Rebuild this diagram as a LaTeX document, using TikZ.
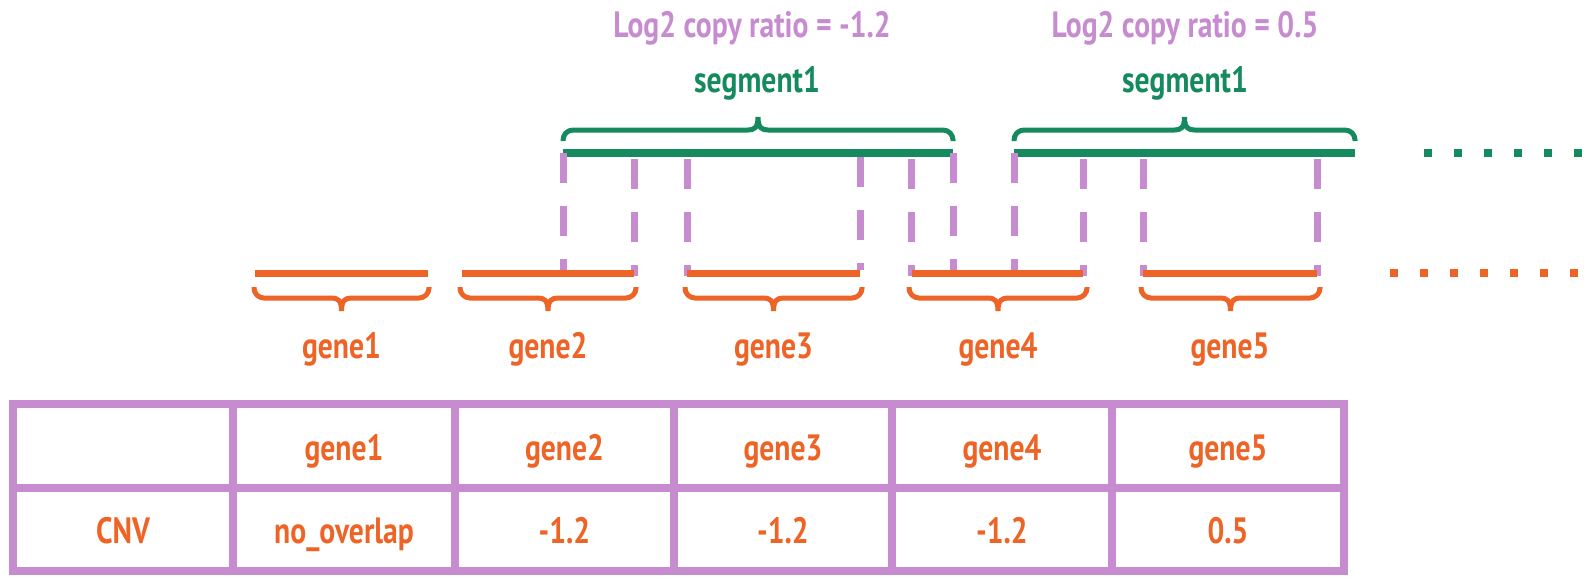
\documentclass[tikz,border=0pt]{standalone}
\usepackage{fontspec}
\newfontfamily\labfont{PT Sans}[FakeStretch=0.81]
\definecolor{orangeC}{HTML}{ED6426}
\definecolor{greenC}{HTML}{148A5E}
\definecolor{purpleC}{HTML}{C78BD0}
\newcommand\mybrace[5]{% #1 style, #2 left x, #3 right x, #4 end y, #5 direction (1 down, -1 up)
  \draw[#1] ({#2},{#4-1*#5}) -- ({#2},{#4}) .. controls ({#2},{#4+5.5*#5}) and ({#2+4.5},{#4+10*#5}) .. ({#2+10},{#4+10*#5})
   -- ({(#2+#3)/2-10},{#4+10*#5}) .. controls ({(#2+#3)/2-4},{#4+10*#5}) and ({(#2+#3)/2},{#4+12*#5}) .. ({(#2+#3)/2},{#4+23*#5})
   .. controls ({(#2+#3)/2},{#4+12*#5}) and ({(#2+#3)/2+4},{#4+10*#5}) .. ({(#2+#3)/2+10},{#4+10*#5})
   -- ({#3-10},{#4+10*#5}) .. controls ({#3-4.5},{#4+10*#5}) and ({#3},{#4+5.5*#5}) .. ({#3},{#4}) -- ({#3},{#4-1*#5});}
\begin{document}
\begin{tikzpicture}[x=0.5pt,y=-0.5pt,
  lab/.style={font=\labfont\bfseries\fontsize{18.3}{21}\selectfont, inner sep=0pt, anchor=base},
  genetext/.style={lab, text=orangeC},
  segtext/.style={lab, text=greenC},
  ratiotext/.style={lab, text=purpleC},
  geneline/.style={draw=orangeC, line width=3.5pt},
  segline/.style={draw=greenC, line width=3.8pt},
  linkline/.style={draw=purpleC, line width=3.5pt, dash pattern=on 15pt off 11.5pt},
  genedots/.style={draw=orangeC, line width=3.7pt, dash pattern=on 3.8pt off 11.2pt},
  segdots/.style={draw=greenC, line width=3.7pt, dash pattern=on 3.8pt off 11.2pt},
  genebrace/.style={draw=orangeC, line width=2.5pt},
  segbrace/.style={draw=greenC, line width=2.5pt},
  grid/.style={draw=purpleC, line width=3.8pt},
  celltext/.style={lab, text=orangeC}]
\useasboundingbox (0,0) rectangle (1590,584);

% segments
\coordinate (s1a) at (563,153); \coordinate (s1b) at (953,153);
\coordinate (s2a) at (1014,153); \coordinate (s2b) at (1355,153);
\coordinate (sda) at (1424,153); \coordinate (sdb) at (1590,153);
\draw[segline] (s1a) -- (s1b);
\draw[segline] (s2a) -- (s2b);
\draw[segdots] (sda) -- (sdb);
\mybrace{segbrace}{563}{953}{140}{-1}
\mybrace{segbrace}{1014}{1355}{140}{-1}
\node[segtext] (seg1) at (757,92) {segment1};
\node[segtext] (seg2) at (1185,92) {segment1};
\node[ratiotext] (ratio1) at (752,37) {Log2 copy ratio = -1.2};
\node[ratiotext] (ratio2) at (1185,37) {Log2 copy ratio = 0.5};

% genes
\coordinate (g1a) at (255,273); \coordinate (g1b) at (428,273);
\coordinate (g2a) at (462,273); \coordinate (g2b) at (634,273);
\coordinate (g3a) at (687,273); \coordinate (g3b) at (860,273);
\coordinate (g4a) at (912,273); \coordinate (g4b) at (1083,273);
\coordinate (g5a) at (1143,273); \coordinate (g5b) at (1317,273);
\coordinate (gda) at (1390,273); \coordinate (gdb) at (1590,273);

% dashed links
\draw[linkline] (563,153) -- (563,270);
\draw[linkline] (634,159) -- (634,276);
\draw[linkline] (687,159) -- (687,276);
\draw[linkline] (860,157) -- (860,270);
\draw[linkline] (911,159) -- (911,276);
\draw[linkline] (953,153) -- (953,270);
\draw[linkline] (1014,153) -- (1014,270);
\draw[linkline] (1083,159) -- (1083,276);
\draw[linkline] (1143,159) -- (1143,276);
\draw[linkline] (1317,159) -- (1317,276);

\draw[geneline] (g1a) -- (g1b);
\draw[geneline] (g2a) -- (g2b);
\draw[geneline] (g3a) -- (g3b);
\draw[geneline] (g4a) -- (g4b);
\draw[geneline] (g5a) -- (g5b);
\draw[genedots] (gda) -- (gdb);

\mybrace{genebrace}{254}{429}{288}{1}
\mybrace{genebrace}{460}{636}{288}{1}
\mybrace{genebrace}{685}{862}{288}{1}
\mybrace{genebrace}{909}{1087}{288}{1}
\mybrace{genebrace}{1141}{1320}{288}{1}

\node[genetext] (gene1) at (341.5,358) {gene1};
\node[genetext] (gene2) at (548,358) {gene2};
\node[genetext] (gene3) at (773.5,358) {gene3};
\node[genetext] (gene4) at (998,358) {gene4};
\node[genetext] (gene5) at (1230,358) {gene5};

% table
\draw[grid] (13,404) rectangle (1344,571);
\draw[grid] (13,488) -- (1344,488);
\foreach \cx in {233,455,674,892,1112} {\draw[grid] (\cx,404) -- (\cx,571);}
\node[celltext] (h1) at (344,460) {gene1};
\node[celltext] (h2) at (564.5,460) {gene2};
\node[celltext] (h3) at (783,460) {gene3};
\node[celltext] (h4) at (1002,460) {gene4};
\node[celltext] (h5) at (1228,460) {gene5};
\node[celltext] (r0) at (123,543) {CNV};
\node[celltext] (r1) at (344,543) {no\_overlap};
\node[celltext] (r2) at (564.5,543) {-1.2};
\node[celltext] (r3) at (783,543) {-1.2};
\node[celltext] (r4) at (1002,543) {-1.2};
\node[celltext] (r5) at (1228,543) {0.5};
\end{tikzpicture}
\end{document}
